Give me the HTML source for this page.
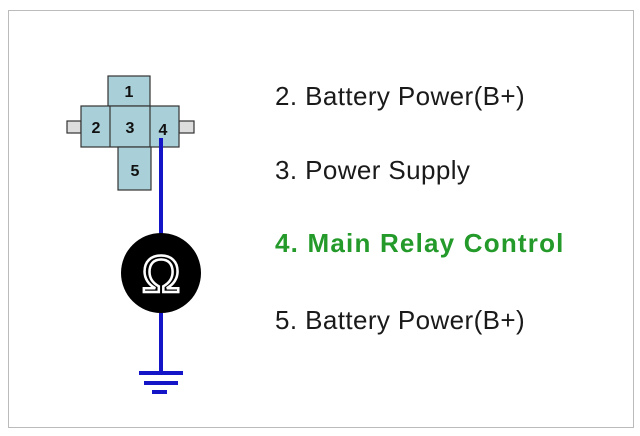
<!DOCTYPE html>
<html><head><style>
body{margin:0;background:#fff;width:640px;height:436px;overflow:hidden;position:relative;font-family:"Liberation Sans",sans-serif}
.t{position:absolute;left:275px;font-size:26px;letter-spacing:0.4px;color:#1a1a1a;white-space:nowrap;line-height:1}
</style></head><body>
<div style="position:absolute;left:8px;top:10px;width:624px;height:416px;border:1px solid #bbb"></div>
<svg width="640" height="436" style="position:absolute;left:0;top:0">
<g stroke="#333" stroke-width="1.2" fill="#a9d0d8">
<rect x="67" y="121" width="14" height="12" fill="#ddd"/>
<rect x="179" y="121" width="15" height="12" fill="#ddd"/>
<rect x="108" y="76" width="42" height="30"/>
<rect x="81" y="106" width="98" height="41"/>
<line x1="110" y1="106" x2="110" y2="147"/>
<line x1="150" y1="106" x2="150" y2="147"/>
<rect x="118" y="147" width="33" height="43"/>
</g>
<g font-family="Liberation Sans" font-weight="bold" font-size="16" fill="#111" text-anchor="middle">
<text x="129" y="97">1</text><text x="96" y="133">2</text><text x="130" y="133">3</text><text x="163" y="135">4</text><text x="135" y="176">5</text>
</g>
<g stroke="#1515c8" stroke-width="4" fill="none">
<line x1="161" y1="138" x2="161" y2="373"/>
<line x1="139" y1="373" x2="183" y2="373"/>
<line x1="144" y1="383" x2="178" y2="383"/>
<line x1="152" y1="392" x2="167" y2="392"/>
</g>
<circle cx="161" cy="273" r="40" fill="#000"/>
<text x="161" y="292" font-family="Liberation Sans" font-size="52" fill="#000" stroke="#fff" stroke-width="2.5" text-anchor="middle">Ω</text>
</svg>
<div class="t" style="top:83px">2. Battery Power(B+)</div>
<div class="t" style="top:157px">3. Power Supply</div>
<div class="t" style="top:230px;color:#239a2a;font-weight:bold;letter-spacing:1.2px">4. Main Relay Control</div>
<div class="t" style="top:307px">5. Battery Power(B+)</div>
</body></html>
